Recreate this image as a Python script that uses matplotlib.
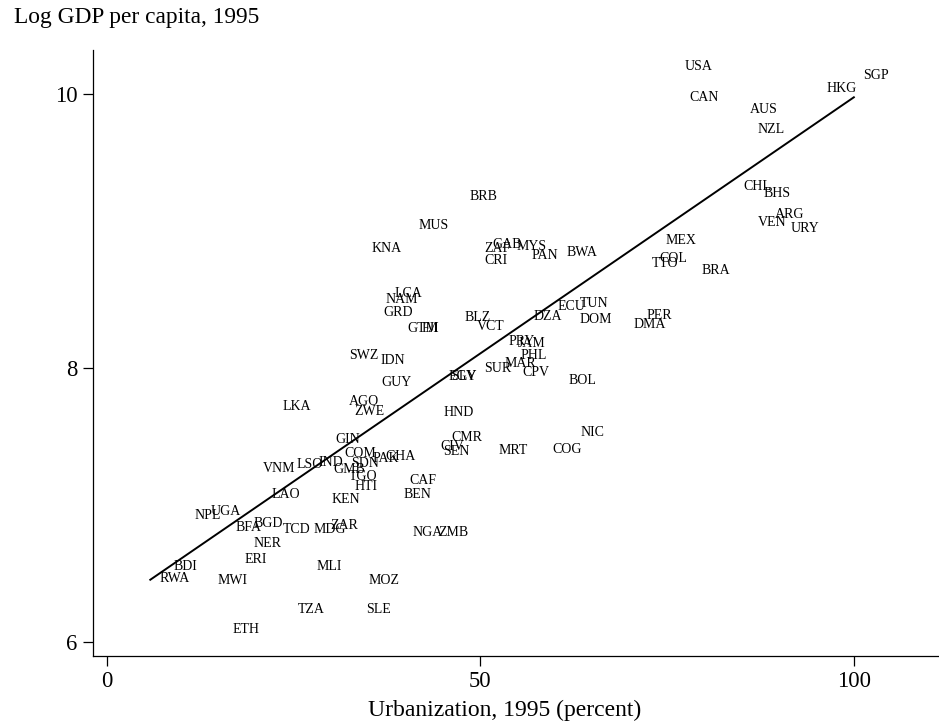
import numpy as np
import matplotlib
matplotlib.use("Agg")
import matplotlib.pyplot as plt

plt.rcParams['font.family'] = ['Liberation Serif', 'DejaVu Serif']

codes = ["USA", "CAN", "AUS", "NZL", "HKG", "SGP", "CHL", "BHS", "ARG", "VEN",
         "URY", "MEX", "COL", "TTO", "BRA", "PER", "DMA", "BRB", "MUS", "KNA",
         "ZAF", "GAB", "MYS", "PAN", "BWA", "CRI", "LCA", "NAM", "GRD", "GTM",
         "FJI", "BLZ", "VCT", "DZA", "ECU", "TUN", "DOM", "PRY", "JAM", "PHL",
         "MAR", "SUR", "CPV", "EGY", "SLV", "BOL", "SWZ", "IDN", "GUY", "HND",
         "CMR", "CIV", "SEN", "MRT", "COG", "NIC", "LKA", "AGO", "ZWE", "GIN",
         "COM", "PAK", "GHA", "VNM", "LSO", "IND", "SDN", "GMB", "TGO", "HTI",
         "CAF", "BEN", "LAO", "KEN", "NPL", "UGA", "BGD", "BFA", "TCD", "MDG",
         "ZAR", "NGA", "ZMB", "NER", "ERI", "MLI", "BDI", "RWA", "MWI", "MOZ",
         "TZA", "SLE", "ETH"]

urban = [76.1, 76.7, 84.8, 85.9, 95.1, 100.0, 83.9, 86.6, 88.2, 85.9,
         90.3, 73.5, 72.7, 71.7, 78.4, 71.0, 69.3, 47.3, 40.5, 34.1,
         49.3, 50.3, 53.6, 55.6, 60.2, 49.3, 37.3, 36.0, 35.8, 39.0,
         40.8, 46.6, 48.2, 55.8, 59.0, 62.0, 62.0, 52.5, 53.8, 54.1,
         51.9, 49.2, 54.4, 44.5, 44.8, 60.6, 31.2, 35.4, 35.5, 43.8,
         44.8, 43.4, 43.8, 51.2, 58.4, 62.1, 22.2, 31.1, 31.8, 29.3,
         30.5, 34.3, 36.0, 19.6, 24.1, 27.0, 31.4, 29.0, 31.1, 31.9,
         39.2, 38.5, 20.8, 28.8, 10.4, 12.6, 18.4, 16.0, 22.3, 26.4,
         28.7, 39.6, 43.1, 18.3, 17.2, 26.8, 7.6, 5.8, 13.6, 33.8,
         24.3, 33.4, 15.5]

log_gdp = [10.21, 9.985, 9.896, 9.75, 10.049, 10.146, 9.336, 9.282, 9.129, 9.073,
           9.029, 8.939, 8.808, 8.769, 8.720, 8.394, 8.326, 9.263, 9.049, 8.885,
           8.878, 8.910, 8.898, 8.832, 8.854, 8.793, 8.553, 8.509, 8.411, 8.297,
           8.301, 8.380, 8.309, 8.387, 8.460, 8.477, 8.363, 8.199, 8.185, 8.100,
           8.039, 8.002, 7.978, 7.949, 7.949, 7.918, 8.100, 8.066, 7.905, 7.686,
           7.499, 7.438, 7.401, 7.409, 7.416, 7.540, 7.730, 7.761, 7.688, 7.487,
           7.382, 7.348, 7.363, 7.275, 7.304, 7.321, 7.309, 7.265, 7.214, 7.144,
           7.188, 7.085, 7.085, 7.051, 6.932, 6.958, 6.871, 6.842, 6.832, 6.832,
           6.861, 6.810, 6.810, 6.728, 6.611, 6.562, 6.562, 6.472, 6.458, 6.458,
           6.243, 6.243, 6.100]

x_ticks = [0, 50, 100]
y_ticks = [6, 8, 10]
x_title = "Urbanization, 1995 (percent)"
y_title = "Log GDP per capita, 1995"

W, H = 939, 721
fig = plt.figure(figsize=(W / 100, H / 100), dpi=100)
ax = fig.add_axes([93 / W, 1 - 656 / H, (W - 93) / W, (656 - 50) / H])

x = np.array(urban)
y = np.array(log_gdp)

for c, xi, yi in zip(codes, x, y):
    ax.annotate(c, (xi, yi), xytext=(6.8, 0), textcoords='offset points',
                ha='left', va='center_baseline', fontsize=10, color='black')

slope, intercept = np.polyfit(x, y, 1)
xs = np.array([x.min(), x.max()])
ax.plot(xs, intercept + slope * xs, color='black', lw=1.4)

ax.set_xlim(-1.87, 111.4)
ax.set_ylim(5.895, 10.32)
ax.set_xticks(x_ticks)
ax.set_yticks(y_ticks)
ax.tick_params(axis='both', labelsize=16.3, length=7, width=0.9, pad=4, direction='out')
for s in ['top', 'right']:
    ax.spines[s].set_visible(False)
for s in ['left', 'bottom']:
    ax.spines[s].set_linewidth(0.9)

ax.set_xlabel(x_title, fontsize=17)
ax.xaxis.set_label_coords((505 - 93) / (W - 93), -0.086)
ax.xaxis.label.set_va('center_baseline')
fig.text(14 / W, 1 - 18 / H, y_title, ha='left', va='center', fontsize=16.8)

fig.savefig("out.png", dpi=100)
